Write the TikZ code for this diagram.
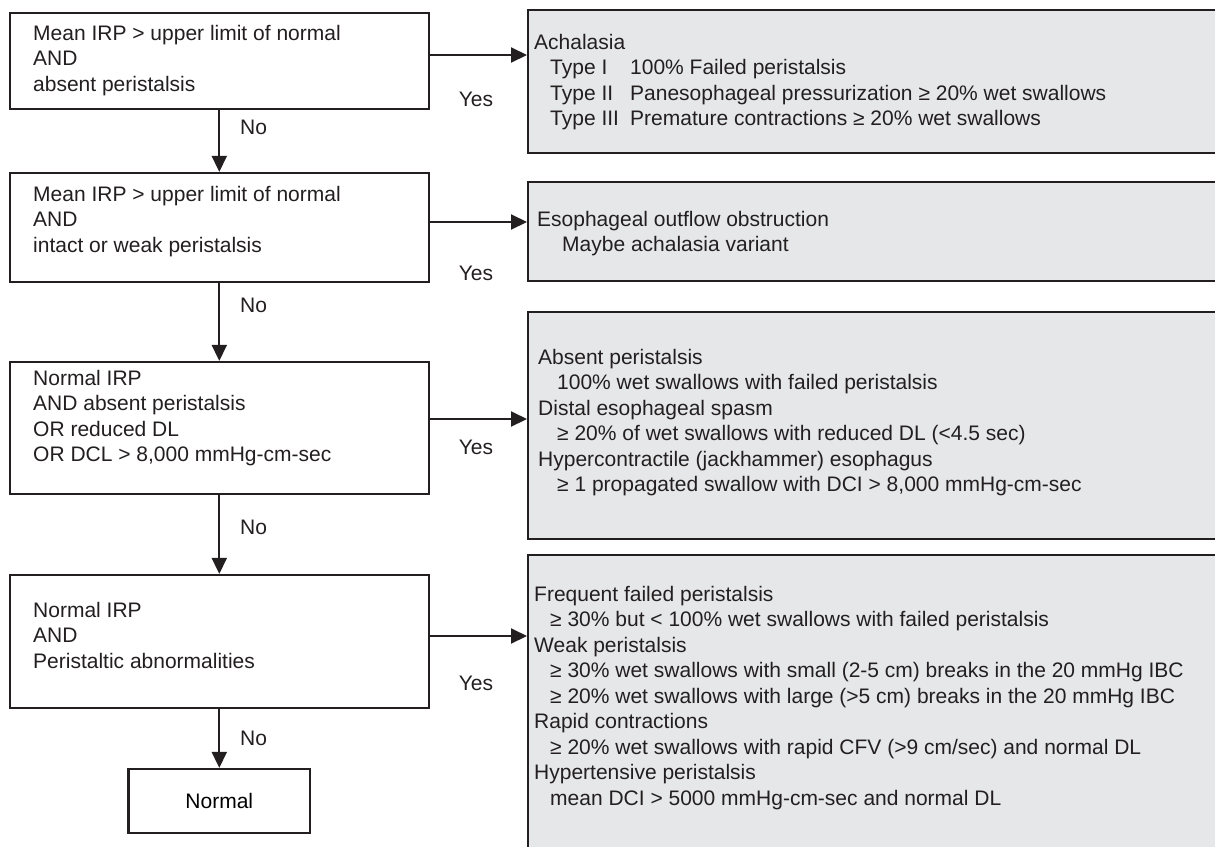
\documentclass[tikz,border=0pt]{standalone}
\usepackage{fontspec}
\setmainfont{Liberation Sans}
\usetikzlibrary{arrows.meta, positioning, calc}
\definecolor{inkline}{HTML}{231F20}
\definecolor{resultgray}{HTML}{E6E7E8}

\begin{document}
\begin{tikzpicture}[x=1pt, y=-1pt, crit/.style={draw=inkline, line
      width=2.2pt, fill=white, minimum width=419pt, inner sep=0pt},
      result/.style={draw=inkline, line width=2pt, fill=resultgray, minimum
      width=700pt, inner sep=0pt, anchor=north west},
      boxtext/.style={anchor=north west, inner sep=0pt, align=left,
      font=\fontsize{21pt}{25.5pt}\selectfont, text=inkline},
      answer/.style={font=\fontsize{21pt}{25pt}\selectfont, text=inkline,
      inner sep=0pt}, flow/.style={draw=inkline, line width=2pt,
      -{Triangle[length=16pt,width=15pt]}} ]
    \useasboundingbox (0,0) rectangle (1215,846);
    \clip (0,0) rectangle (1215,846);

    % Decision boxes
    \node[crit, minimum height=96.6pt] (c1) at (219.3,61) {}; \node[crit,
    minimum height=109pt] (c2) at (219.3,227.5) {}; \node[crit, minimum
    height=132pt] (c3) at (219.3,428) {}; \node[crit, minimum height=133pt]
    (c4) at (219.3,641.5) {};
    \node[crit, minimum width=181.7pt, minimum height=64pt,
    font=\fontsize{21pt}{25pt}\selectfont] (nrm) at (219.3,801) {Normal};

    % Result boxes
    \node[result, minimum height=142.4pt] (r1) at (527,9.3) {};
    \node[result, minimum height=99pt] (r2) at (527,181) {}; \node[result,
    minimum height=227pt] (r3) at (527,311) {}; \node[result, minimum
    height=320pt] (r4) at (527,554) {};

    % Texts in decision boxes
    \node[boxtext] (c1t) at (33,25) {Mean IRP > upper limit of
    normal\\AND\\absent peristalsis};
    \node[boxtext] (c2t) at (33,186) {Mean IRP > upper limit of
    normal\\AND\\intact or weak peristalsis};
    \node[boxtext] (c3t) at (33,370) {Normal IRP\\AND absent
    peristalsis\\OR reduced DL\\OR DCL > 8,000 mmHg-cm-sec};
    \node[boxtext] (c4t) at (33,602) {Normal IRP\\AND\\Peristaltic
    abnormalities};

    % Texts in result boxes
    \node[boxtext] (r1t) at (534,34) {Achalasia\\
      \hspace*{16pt}\makebox[80pt][l]{Type I}100\% Failed peristalsis\\
      \hspace*{16pt}\makebox[80pt][l]{Type II}Panesophageal pressurization ≥
      20\% wet swallows\\
      \hspace*{16pt}\makebox[80pt][l]{Type III}Premature contractions ≥
      20\% wet swallows};
    \node[boxtext] (r2t) at (537,211) {Esophageal outflow obstruction\\
      \hspace*{25pt}Maybe achalasia variant};
    \node[boxtext] (r3t) at (538,349) {Absent peristalsis\\
      \hspace*{19pt}100\% wet swallows with failed peristalsis\\
      Distal esophageal spasm\\
      \hspace*{19pt}≥ 20\% of wet swallows with reduced DL (<4.5 sec)\\
      Hypercontractile (jackhammer) esophagus\\
      \hspace*{19pt}≥ 1 propagated swallow with DCI > 8,000 mmHg-cm-sec};
    \node[boxtext] (r4t) at (534,586) {Frequent failed peristalsis\\
      \hspace*{16pt}≥ 30\% but < 100\% wet swallows with failed peristalsis\\
      Weak peristalsis\\
      \hspace*{16pt}≥ 30\% wet swallows with small (2-5 cm) breaks in the 20
      mmHg IBC\\
      \hspace*{16pt}≥ 20\% wet swallows with large (>5 cm) breaks in the 20
      mmHg IBC\\
      Rapid contractions\\
      \hspace*{16pt}≥ 20\% wet swallows with rapid CFV (>9 cm/sec) and normal
      DL\\
      Hypertensive peristalsis\\
      \hspace*{16pt}mean DCI > 5000 mmHg-cm-sec and normal DL};

    % No arrows
    \draw[flow] (c1) -- (c2); \draw[flow] (c2) -- (c3); \draw[flow] (c3) --
    (c4); \draw[flow] (c4) -- (nrm);

    % Yes arrows
    \draw[flow] ([yshift=6pt]c1.east) -- ([yshift=6pt]c1.east -| r1.west);
    \draw[flow] ([yshift=5.5pt]c2.east) -- ([yshift=5.5pt]c2.east -|
    r2.west); \draw[flow] ([yshift=9pt]c3.east) -- ([yshift=9pt]c3.east -|
    r3.west); \draw[flow] ([yshift=5.5pt]c4.east) -- ([yshift=5.5pt]c4.east
    -| r4.west);

    % Answer labels
    \node[answer] (yes1) at (476,99) {Yes}; \node[answer] (yes2) at
    (476,273) {Yes}; \node[answer] (yes3) at (476,447) {Yes}; \node[answer]
    (yes4) at (476,683) {Yes};
    \node[answer, anchor=west] (no1) at (240,127) {No}; \node[answer,
    anchor=west] (no2) at (240,305) {No}; \node[answer, anchor=west] (no3)
    at (240,527) {No}; \node[answer, anchor=west] (no4) at (240,738) {No};

    \end{tikzpicture}
\end{document}
